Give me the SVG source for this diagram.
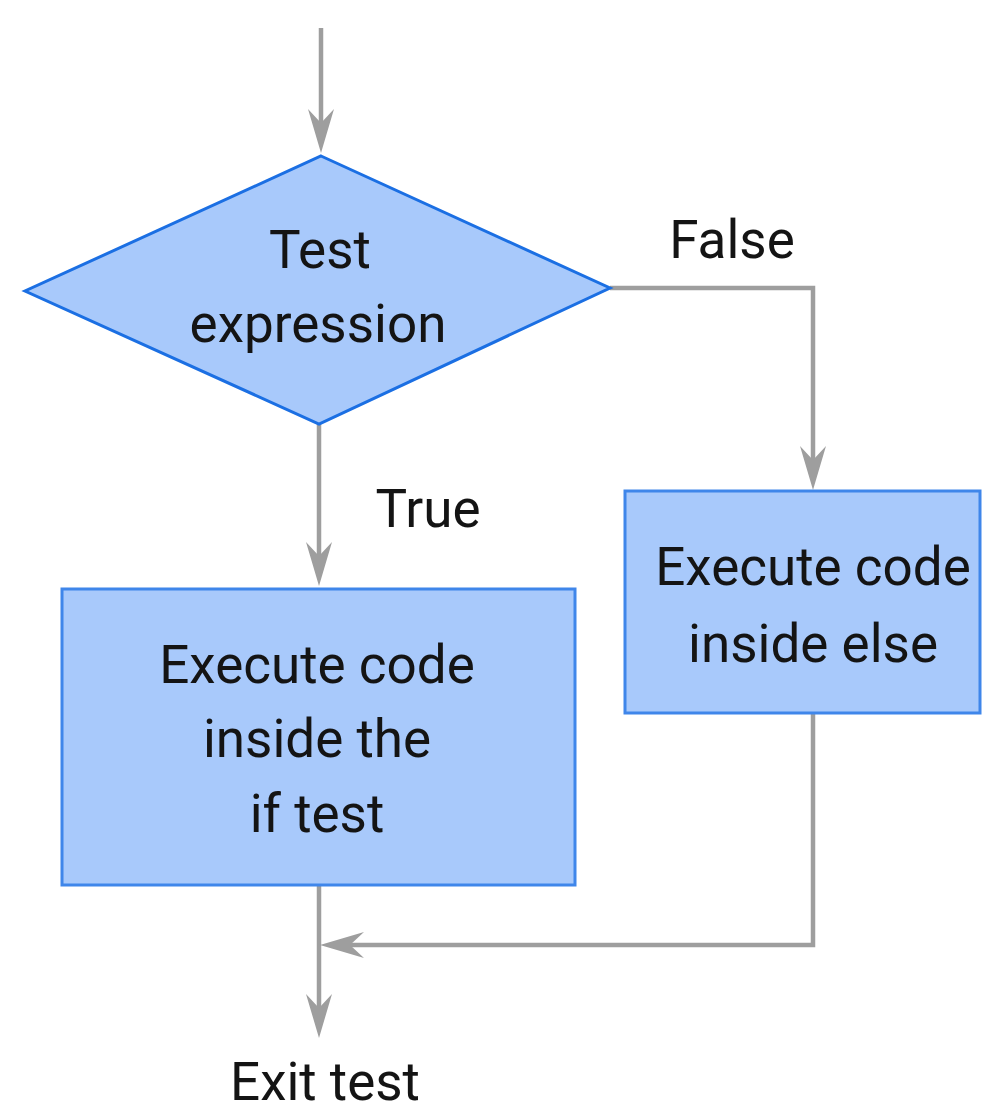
<svg xmlns="http://www.w3.org/2000/svg" width="982" height="1115" viewBox="0 0 982 1115">
  <style>
    .shape { fill: #a8c9fb; stroke: #3f86ea; stroke-width: 3; }
    .diamond { stroke: #1b6fe3; }
    .label { font-family: Roboto, "Liberation Sans", sans-serif; font-size: 53px; fill: #141414; text-anchor: middle; }
    .flow { fill: none; stroke: #9e9e9e; stroke-width: 4.5; marker-end: url(#head); }
  </style>
  <defs>
    <marker id="head" markerUnits="userSpaceOnUse" markerWidth="46" markerHeight="28" refX="24" refY="14" orient="auto" overflow="visible">
      <path d="M44,14 L0,1 L14,14 L0,27 Z" fill="#9e9e9e"/>
    </marker>
  </defs>

  <rect width="982" height="1115" fill="#ffffff"/>

  <g id="connectors">
    <path class="flow" d="M321,28 V133"/>
    <path class="flow" d="M610,288 H813 V470"/>
    <path class="flow" d="M319,424 V566"/>
    <path class="flow" d="M319,886 V1018"/>
    <path class="flow" d="M813,713 V945 H340"/>
  </g>

  <g id="test-expression">
    <polygon class="shape diamond" points="321,156 610,288 319,424 25,291"/>
    <text class="label" x="320" y="268">Test</text>
    <text class="label" x="318" y="342">expression</text>
  </g>

  <g id="if-body">
    <rect class="shape" x="62" y="589" width="513" height="296"/>
    <text class="label" x="317" y="683">Execute code</text>
    <text class="label" x="317" y="757">inside the</text>
    <text class="label" x="317" y="832">if test</text>
  </g>

  <g id="else-body">
    <rect class="shape" x="625" y="491" width="355" height="222"/>
    <text class="label" x="813" y="585">Execute code</text>
    <text class="label" x="813" y="662">inside else</text>
  </g>

  <g id="edge-labels">
    <text class="label" x="732" y="258">False</text>
    <text class="label" x="428" y="527">True</text>
    <text class="label" x="325" y="1100">Exit test</text>
  </g>
</svg>
